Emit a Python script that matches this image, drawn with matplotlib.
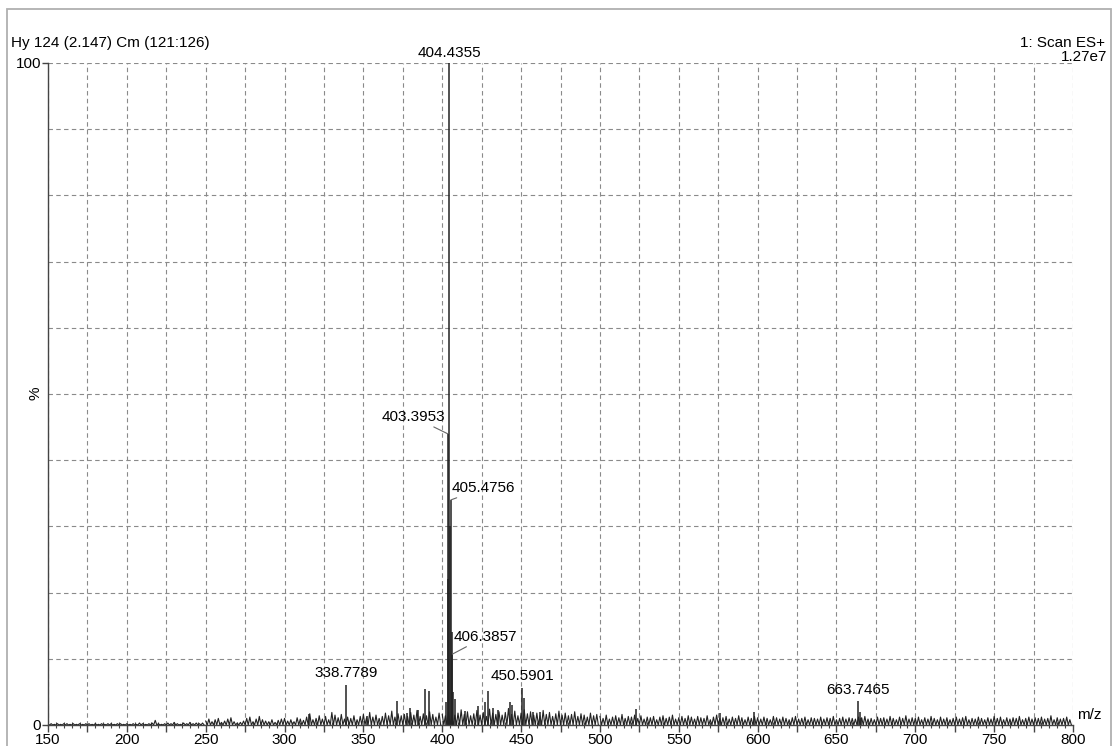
import numpy as np
import matplotlib
matplotlib.use('Agg')
from matplotlib import pyplot as plt
from matplotlib import patches as pts
from matplotlib.ticker import FixedLocator, MultipleLocator

plt.rcParams['font.family'] = ['Liberation Sans', 'DejaVu Sans']

# labelled / distinct peaks, m/z and relative intensity (%)
peak_mz = [315.5, 338.7789, 352.0, 371.1, 377.4, 379.5, 384.6, 389.3, 391.5,
           402.6, 403.3953, 403.9, 404.4355, 404.9, 405.4756, 405.9, 406.3857,
           406.9, 408.1, 414.4, 422.7, 427.0, 429.2, 432.2, 435.4, 443.0, 444.0,
           450.5901, 452.0, 457.5, 462.0, 522.6, 576.0, 598.0, 663.7465, 664.7, 665.7]
peak_int = [1.7, 6.1, 1.4, 3.6, 1.8, 2.6, 2.3, 5.5, 5.2,
            3.5, 44.0, 22.0, 100.0, 30.0, 34.0, 14.0, 10.7,
            5.0, 4.0, 2.1, 2.9, 3.4, 5.2, 2.6, 2.3, 3.4, 3.0,
            5.6, 4.1, 2.0, 2.0, 2.4, 1.8, 1.9, 3.6, 2.0, 1.0]

# baseline noise, sampled every 2 m/z
noise_lo_start = 150
noise_lo = [0.1, 0.2, 0.1, 0.2, 0.1, 0.2, 0.2, 0.1, 0.2, 0.1,
            0.2, 0.1, 0.2, 0.2, 0.1, 0.2, 0.1, 0.2, 0.1, 0.2,
            0.2, 0.1, 0.2, 0.2, 0.1, 0.2, 0.1, 0.2, 0.1, 0.3,
            0.2, 0.1, 0.2, 0.3, 0.7, 0.2, 0.1, 0.2, 0.3, 0.2,
            0.4, 0.2, 0.1, 0.3, 0.2, 0.4, 0.2, 0.3, 0.2, 0.3]
noise_mid_start = 250
noise_mid = [0.6, 0.9, 0.5, 0.8, 1.0, 0.4, 0.6, 0.9, 1.1, 0.5,
             0.3, 0.4, 0.6, 1.0, 1.2, 0.5, 0.9, 1.3, 0.8, 0.6,
             0.5, 0.8, 0.4, 0.7, 0.9,
             1.0, 0.6, 0.8, 0.5, 1.1, 0.9, 0.7, 1.2, 1.7, 0.8,
             1.0, 1.4, 0.9, 1.3, 0.8, 1.9, 1.5, 1.1, 1.6, 0.9,
             1.2, 1.0, 1.4, 0.8, 1.3, 1.6, 1.1, 1.9, 1.2, 1.5,
             1.0, 1.3, 1.8, 1.4, 2.1, 1.2, 1.7, 1.4, 1.6, 1.3,
             1.9, 1.5, 2.2, 1.3, 1.7, 1.4, 2.0, 1.6, 1.2, 1.8]
noise_hi_start = 400
noise_hi = [1.6, 1.4, 1.9, 1.2, 1.5, 1.8, 2.3, 1.6, 2.0, 1.4,
            1.7, 2.2, 1.5, 1.9, 1.3, 2.4, 1.8, 1.6, 2.0, 1.5,
            1.9, 2.5, 1.6, 2.1, 1.4, 1.8, 2.3, 1.7, 2.0, 1.5,
            1.8, 1.4, 2.2, 1.6, 1.9, 1.3, 1.7, 2.1, 1.5, 1.8,
            1.4, 1.6, 2.0, 1.3, 1.7, 1.5, 1.2, 1.8, 1.4, 1.6]
noise_tail_start = 500
noise_tail = [1.3, 1.0, 1.5, 0.9, 1.2, 1.4, 1.1, 1.6, 1.0, 1.3,
              1.2, 1.5, 1.0, 1.4, 0.9, 1.2, 1.1, 1.3, 0.8, 1.2,
              1.4, 1.0, 1.2, 1.5, 0.9, 1.1, 1.3, 1.0, 1.4, 1.2,
              0.9, 1.3, 1.1, 1.0, 1.4, 0.8, 1.2, 1.5, 1.0, 1.1,
              1.3, 0.9, 1.2, 1.0, 1.4, 1.1, 0.8, 1.2, 1.0, 1.3,
              1.1, 0.9, 1.2, 1.0, 0.8, 1.3, 1.1, 0.9, 1.2, 1.0,
              0.8, 1.1, 1.3, 0.9, 1.0, 1.2, 0.8, 1.1, 1.0, 0.9,
              1.2, 0.9, 1.1, 1.0, 1.3, 0.8, 1.0, 1.2, 0.9, 1.1,
              1.0, 0.9, 1.2, 1.1, 1.3, 0.9, 1.0, 0.8, 1.2, 1.0,
              1.1, 0.9, 1.3, 1.0, 0.8, 1.2, 1.0, 1.4, 0.9, 1.1,
              1.0, 1.2, 0.8, 1.1, 0.9, 1.3, 1.0, 0.8, 1.2, 0.9,
              1.1, 0.8, 1.0, 1.2, 0.9, 1.1, 1.3, 0.8, 1.0, 0.9,
              1.2, 1.0, 0.8, 1.1, 0.9, 1.3, 1.0, 1.2, 0.8, 1.1,
              0.9, 1.1, 1.0, 1.3, 0.8, 1.0, 1.2, 0.9, 1.1, 1.0,
              1.2, 0.9, 1.0, 1.4, 0.8, 1.1, 0.9, 1.0, 1.2, 0.8]

x_labels = [150, 200, 250, 300, 350, 400, 450, 500, 550, 600, 650, 700, 750, 800]

W, H = 1113, 746
fig = plt.figure(figsize=(W/100, H/100), dpi=100)
# axes: x 150 -> px 48, 800 -> px 1073 ; y 0 -> px 725, 100 -> px 63
ax = fig.add_axes([48/W, 1-725/H, (1073-48)/W, (725-63)/H])
fig.patches.append(pts.Rectangle((7/W, -0.05), (1111-7)/W, 1.05-9/H, transform=fig.transFigure,
                                 fill=False, edgecolor='#b0b0b0', lw=1.3))

stick = '#222222'
for start, vals in [(noise_lo_start, noise_lo), (noise_mid_start, noise_mid),
                    (noise_hi_start, noise_hi), (noise_tail_start, noise_tail)]:
    mz = start + 2*np.arange(len(vals))
    # jagged trace: up to the sampled height, back to the baseline between samples
    xs = np.column_stack([mz, mz + 1]).ravel()
    ys = np.column_stack([vals, np.zeros(len(vals))]).ravel()
    ax.plot(xs, ys, color=stick, lw=0.8)
ax.vlines(peak_mz, 0, peak_int, color=stick, lw=1.1, clip_on=False)

ax.set_xlim(150, 800)
ax.set_ylim(0, 100)

# ticks and grid
ax.xaxis.set_major_locator(MultipleLocator(25))
ax.xaxis.set_minor_locator(MultipleLocator(5))
ax.set_xticklabels(['{:d}'.format(int(t)) if t in x_labels else '' for t in ax.get_xticks()])
ax.yaxis.set_major_locator(FixedLocator([0, 100]))
ax.yaxis.set_minor_locator(FixedLocator(np.arange(10, 100, 10)))
ax.set_yticklabels(['0', '100'])
ax.tick_params(axis='x', which='major', length=5, width=1, color='#444', labelsize=11, pad=1)
ax.tick_params(axis='x', which='minor', direction='inout', length=4, width=0.8, color='#444')
ax.tick_params(axis='y', which='major', length=4, width=1, color='#444', labelsize=11, pad=1)
ax.tick_params(axis='y', which='minor', length=0)
ax.grid(True, which='major', axis='x', color='#8a8a8a', ls=(0, (4, 3)), lw=0.8)
ax.grid(True, which='both', axis='y', color='#8a8a8a', ls=(0, (4, 3)), lw=0.8)
ax.set_axisbelow(True)
for s in ['top', 'right']:
    ax.spines[s].set_visible(False)
for s in ['left', 'bottom']:
    ax.spines[s].set_color('#444')
    ax.spines[s].set_linewidth(1)

fig.text(35/W, 1-393/H, '%', fontsize=11, rotation=90, ha='center', va='center')
ax.text(1.004, 0.004, 'm/z', transform=ax.transAxes, fontsize=11, ha='left', va='bottom')

# header texts
fig.text(11/W, 1-43/H, 'Hy 124 (2.147) Cm (121:126)', fontsize=11, ha='left', va='center')
fig.text(1105/W, 1-43/H, '1: Scan ES+', fontsize=11, ha='right', va='center')
fig.text(1107/W, 1-57/H, '1.27e7', fontsize=11, ha='right', va='center')

# peak labels
ax.text(404.4355, 100.4, '404.4355', fontsize=11, ha='center', va='bottom')
ax.text(338.7789, 6.8, '338.7789', fontsize=11, ha='center', va='bottom')
ax.text(450.5901, 6.3, '450.5901', fontsize=11, ha='center', va='bottom')
ax.text(663.7465, 4.3, '663.7465', fontsize=11, ha='center', va='bottom')
ax.annotate('403.3953', xy=(403.3953, 44.0), xytext=(402.2, 46.5), fontsize=11,
            ha='right', va='center', arrowprops=dict(arrowstyle='-', color='#666', lw=0.8, shrinkA=0, shrinkB=0))
ax.annotate('405.4756', xy=(405.4756, 34.0), xytext=(406.0, 35.8), fontsize=11,
            ha='left', va='center', arrowprops=dict(arrowstyle='-', color='#666', lw=0.8, shrinkA=0, shrinkB=0))
ax.annotate('406.3857', xy=(406.3857, 10.7), xytext=(407.0, 13.3), fontsize=11,
            ha='left', va='center', arrowprops=dict(arrowstyle='-', color='#666', lw=0.8, shrinkA=0, shrinkB=0))

fig.savefig('out.png', dpi=100)
